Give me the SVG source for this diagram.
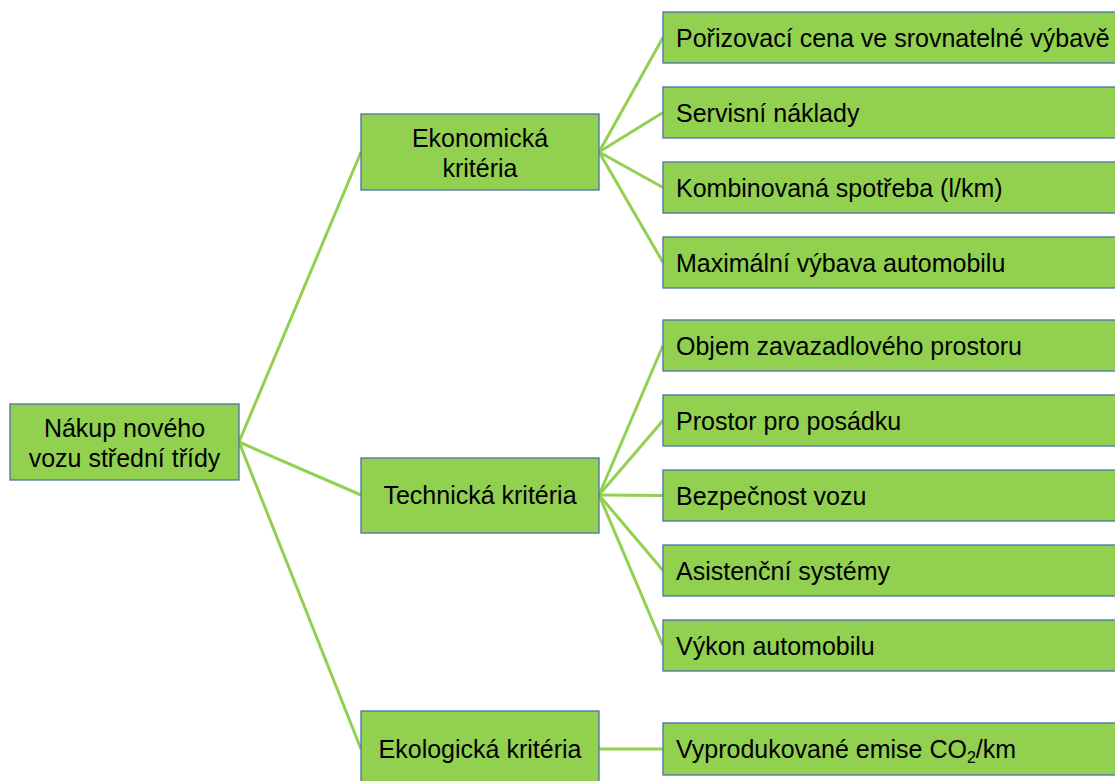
<svg xmlns="http://www.w3.org/2000/svg" width="1115" height="781" viewBox="0 0 1115 781">
<style>
.box{fill:#92D050;stroke:#4F6FA8;stroke-width:1.3}
.t{font-family:"Liberation Sans",Arial,sans-serif;font-size:25px;fill:#000}
.c{text-anchor:middle}
.ln{stroke:#92D050;stroke-width:3;fill:none}
</style>
<rect width="1115" height="781" fill="#fff"/>
<g id="connectors" class="ln">
<line x1="239" y1="442" x2="361" y2="152"/>
<line x1="239" y1="442" x2="361" y2="495"/>
<line x1="239" y1="442" x2="361" y2="749"/>
<line x1="599" y1="152" x2="663" y2="37.5"/>
<line x1="599" y1="152" x2="663" y2="112.5"/>
<line x1="599" y1="152" x2="663" y2="187.5"/>
<line x1="599" y1="152" x2="663" y2="262.5"/>
<line x1="599" y1="495" x2="663" y2="345.5"/>
<line x1="599" y1="495" x2="663" y2="420.5"/>
<line x1="599" y1="495" x2="663" y2="495.5"/>
<line x1="599" y1="495" x2="663" y2="570.5"/>
<line x1="599" y1="495" x2="663" y2="645.5"/>
<line x1="599" y1="749" x2="663" y2="749"/>
</g>
<g id="root"><rect class="box" x="10" y="404" width="229" height="76"/>
<text class="t c" x="124.5" y="437">Nákup nového</text><text class="t c" x="124.5" y="467">vozu střední třídy</text></g>
<g id="eko"><rect class="box" x="361" y="114" width="238" height="76"/>
<text class="t c" x="480" y="147">Ekonomická</text><text class="t c" x="480" y="177">kritéria</text></g>
<g id="tech"><rect class="box" x="361" y="458" width="238" height="75"/>
<text class="t c" x="480" y="504">Technická kritéria</text></g>
<g id="ekol"><rect class="box" x="361" y="711" width="238" height="76"/>
<text class="t c" x="480" y="758">Ekologická kritéria</text></g>
<g id="l1"><rect class="box" x="663" y="12" width="460" height="51"/><text class="t" x="676" y="46.5">Pořizovací cena ve srovnatelné výbavě</text></g>
<g id="l2"><rect class="box" x="663" y="87" width="460" height="51"/><text class="t" x="676" y="121.5">Servisní náklady</text></g>
<g id="l3"><rect class="box" x="663" y="162" width="460" height="51"/><text class="t" x="676" y="196.5">Kombinovaná spotřeba (l/km)</text></g>
<g id="l4"><rect class="box" x="663" y="237" width="460" height="51"/><text class="t" x="676" y="271.5">Maximální výbava automobilu</text></g>
<g id="l5"><rect class="box" x="663" y="320" width="460" height="51"/><text class="t" x="676" y="354.5">Objem zavazadlového prostoru</text></g>
<g id="l6"><rect class="box" x="663" y="395" width="460" height="51"/><text class="t" x="676" y="429.5">Prostor pro posádku</text></g>
<g id="l7"><rect class="box" x="663" y="470" width="460" height="51"/><text class="t" x="676" y="504.5">Bezpečnost vozu</text></g>
<g id="l8"><rect class="box" x="663" y="545" width="460" height="51"/><text class="t" x="676" y="579.5">Asistenční systémy</text></g>
<g id="l9"><rect class="box" x="663" y="620" width="460" height="51"/><text class="t" x="676" y="654.5">Výkon automobilu</text></g>
<g id="l10"><rect class="box" x="663" y="723" width="460" height="52"/><text class="t" x="676" y="758">Vyprodukované emise CO<tspan font-size="16" dy="5">2</tspan><tspan dy="-5">/km</tspan></text></g>
</svg>
